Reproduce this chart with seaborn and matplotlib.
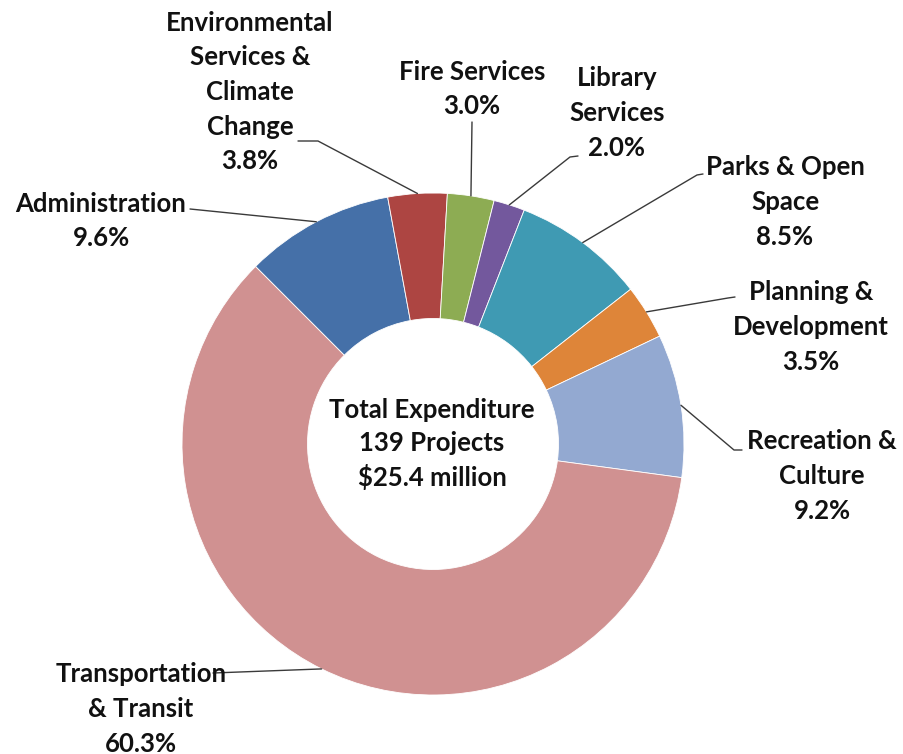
import matplotlib
matplotlib.use("Agg")
import numpy as np
import matplotlib.pyplot as plt
import seaborn as sns

# Spending share by service area (percent of total)
categories = [
    "Administration",
    "Environmental\nServices &\nClimate\nChange",
    "Fire Services",
    "Library\nServices",
    "Parks & Open\nSpace",
    "Planning &\nDevelopment",
    "Recreation &\nCulture",
    "Transportation\n& Transit",
]
shares = [9.6, 3.8, 3.0, 2.0, 8.5, 3.5, 9.2, 60.3]
slice_colors = ["#4570A8", "#AD4542", "#8DAC53", "#73589D", "#3F9AB3",
                "#DE8539", "#93A9D1", "#D09191"]
center_lines = ["Total Expenditure", "139 Projects", "$25.4 million"]

sns.set_theme(style="white")
plt.rcParams["font.family"] = ["Lato", "DejaVu Sans"]

W, H = 904, 754
CX, CY, R = 433, 444, 251  # donut centre and outer radius in pixels

fig = plt.figure(figsize=(W / 100, H / 100), dpi=100)
ax = fig.add_axes([0, 0, 1, 1])


def px(x, y):
    """Pixel position (origin top-left) to data coordinates."""
    return (x - CX) / R, (CY - y) / R


palette = sns.color_palette(slice_colors)
wedges, _ = ax.pie(
    shares,
    colors=palette,
    startangle=135,
    counterclock=False,
    radius=1.0,
    wedgeprops=dict(width=0.5, edgecolor="white", linewidth=0.6),
)
ax.set_xlim(-CX / R, (W - CX) / R)
ax.set_ylim(-(H - CY) / R, CY / R)
ax.set_aspect("equal")
ax.axis("off")

# label block centres and leader-line start points (pixels)
label_pos = [(101, 221), (250, 92), (472, 89), (617, 113),
             (785, 202), (811, 327), (822, 476), (141, 709)]
leader_start = [
    [(190, 209), (200, 210)],
    [(298, 141), (318, 141)],
    [(472, 122)],
    [(578, 156), (570, 157)],
    [(703, 174), (697, 175)],
    [(735, 297), (728, 298)],
    [(742, 450), (734, 450)],
    [(213, 673)],
]

for w, name, val, (lx, ly), pts in zip(wedges, categories, shares,
                                       label_pos, leader_start):
    mid = np.deg2rad((w.theta1 + w.theta2) / 2)
    ex, ey = np.cos(mid), np.sin(mid)
    xs = [px(*p)[0] for p in pts] + [ex]
    ys = [px(*p)[1] for p in pts] + [ey]
    ax.plot(xs, ys, color="#3a3a3a", lw=1.0, zorder=3)
    tx, ty = px(lx, ly)
    ax.text(tx, ty, f"{name}\n{val:.1f}%", ha="center", va="center",
            fontsize=18.5, fontweight="bold", color="#111111",
            linespacing=1.53, zorder=4)

ax.text(*px(432, 444), "\n".join(center_lines), ha="center", va="center",
        fontsize=18.5, fontweight="bold", color="#111111", linespacing=1.44)

fig.savefig("out.png", dpi=100, facecolor="white")
